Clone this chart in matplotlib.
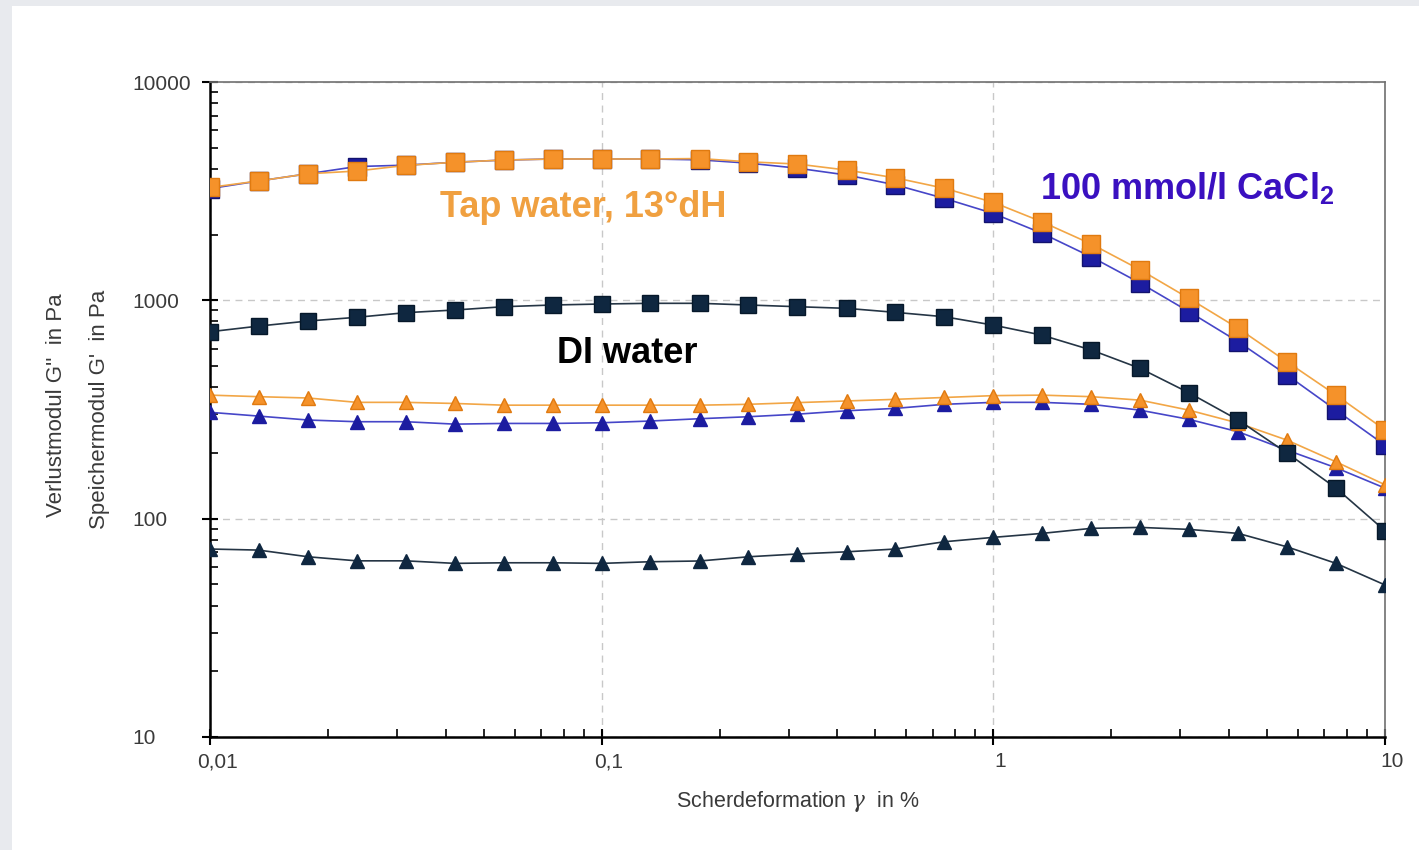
import matplotlib
matplotlib.use("Agg")
import matplotlib.pyplot as plt
from matplotlib.patches import Rectangle
from matplotlib.ticker import LogLocator, NullFormatter
from matplotlib.transforms import ScaledTranslation

plt.rcParams['font.family'] = ['Liberation Sans', 'DejaVu Sans']
plt.rcParams['mathtext.fontset'] = 'custom'
plt.rcParams['mathtext.rm'] = 'Liberation Sans'
plt.rcParams['mathtext.it'] = 'DejaVu Serif:italic'
plt.rcParams['mathtext.bf'] = 'Liberation Sans:bold'

# shear strain in %
strain = [0.01, 0.0133, 0.0178, 0.0237, 0.0316, 0.0422, 0.0562, 0.075,
          0.1, 0.133, 0.178, 0.237, 0.316, 0.422, 0.562, 0.75,
          1.0, 1.33, 1.78, 2.37, 3.16, 4.22, 5.62, 7.5, 10.0]

# storage modulus G' (squares)
tap_g1 = [3290, 3520, 3800, 3910, 4150, 4290, 4390, 4440, 4440, 4440, 4460, 4310,
          4210, 3950, 3640, 3260, 2810, 2290, 1810, 1380, 1020, 744, 523, 368, 255]
cacl_g1 = [3250, 3520, 3800, 4100, 4160, 4290, 4390, 4440, 4440, 4440, 4400, 4250,
           4030, 3750, 3380, 2930, 2500, 2030, 1580, 1200, 887, 646, 455, 314, 217]
di_g1 = [718, 762, 804, 836, 878, 903, 935, 952, 962, 969, 969, 952,
         935, 919, 881, 841, 770, 693, 592, 488, 377, 283, 200, 138, 88]

# loss modulus G'' (triangles)
tap_g2 = [368, 362, 357, 341, 341, 337, 331, 331, 331, 331, 331, 334,
          340, 346, 352, 359, 366, 368, 362, 349, 314, 274, 229, 182, 143]
cacl_g2 = [307, 295, 283, 278, 278, 271, 273, 273, 275, 280, 287, 293,
           301, 312, 320, 334, 341, 341, 334, 314, 285, 250, 206, 171, 138]
di_g2 = [72.6, 71.8, 66.9, 64.1, 64.1, 62.4, 62.8, 62.8, 62.4, 63.5, 64.0, 66.9,
         68.9, 70.5, 72.6, 78.4, 82.1, 85.6, 90.3, 91.2, 89.3, 85.6, 74.3, 62.4, 49.7]

x_ticks = [0.01, 0.1, 1, 10]
x_labels = ['0,01', '0,1', '1', '10']
y_ticks = [10, 100, 1000, 10000]
y_labels = ['10', '100', '1000', '10000']

orange = '#f5922a'
blue = '#1c1ca0'
navy = '#0f2740'

fig = plt.figure(figsize=(14.19, 8.5), dpi=100)
fig.patch.set_facecolor('#e8eaee')
fig.patches.append(Rectangle((12 / 1419, 0), 1, 1 - 6 / 850, transform=fig.transFigure,
                             facecolor='white', edgecolor='none', zorder=-10))
ax = fig.add_axes([210 / 1419, 1 - 737 / 850, 1175 / 1419, 655 / 850])
ax.set_xscale('log')
ax.set_yscale('log')
ax.set_xlim(0.01, 10)
ax.set_ylim(10, 10000)

# G'' curves
ax.plot(strain, di_g2, '-^', color='#253545', mfc=navy, mec=navy, ms=10, lw=1.2, zorder=3)
ax.plot(strain, cacl_g2, '-^', color='#4646c8', mfc=blue, mec=blue, ms=10, lw=1.2, zorder=4)
ax.plot(strain, tap_g2, '-^', color='#f2a646', mfc=orange, mec='#e07a10', ms=10, lw=1.2, zorder=5)

# G' curves
ax.plot(strain, di_g1, '-s', color='#253545', mfc=navy, mec='#06182a', ms=11.5, lw=1.2, zorder=6)
ax.plot(strain, cacl_g1, '-s', color='#4646c8', mfc=blue, mec='#12126e', ms=12.5, lw=1.2, zorder=7)
ax.plot(strain, tap_g1, '-s', color='#f2a646', mfc=orange, mec='#e07a10', ms=12.5, lw=1.2, zorder=8)

ax.set_xticks(x_ticks, x_labels)
ax.set_yticks(y_ticks, y_labels)
ax.xaxis.set_minor_locator(LogLocator(base=10, subs=range(2, 10)))
ax.yaxis.set_minor_locator(LogLocator(base=10, subs=range(2, 10)))
ax.xaxis.set_minor_formatter(NullFormatter())
ax.yaxis.set_minor_formatter(NullFormatter())
ax.tick_params(which='major', direction='inout', length=12, width=1.5, color='black',
               labelsize=15, labelcolor='#3a3a3a')
ax.tick_params(axis='x', which='major', pad=5)
ax.tick_params(axis='y', which='major', pad=50)
ax.tick_params(which='minor', direction='in', length=6, width=1.2, color='black')
for lab in ax.get_yticklabels():
    lab.set_horizontalalignment('left')
for lab in ax.get_xticklabels():
    lab.set_transform(lab.get_transform() + ScaledTranslation(0.07, 0, fig.dpi_scale_trans))
ax.grid(True, which='major', linestyle=(0, (5, 4)), color='#c8c8c8', lw=1)

for side in ['left', 'bottom']:
    ax.spines[side].set_color('black')
    ax.spines[side].set_linewidth(1.8)
for side in ['top', 'right']:
    ax.spines[side].set_color('#707070')
    ax.spines[side].set_linewidth(1.2)

ax.set_xlabel(r"Scherdeformation $\it{\gamma}$  in %", fontsize=15.5, color='#3a3a3a', labelpad=13)
fig.text(57 / 1419, 1 - 405 / 850, "Verlustmodul G''  in Pa", rotation=90,
         ha='center', va='center', fontsize=16, color='#3a3a3a')
fig.text(100 / 1419, 1 - 409 / 850, "Speichermodul G'  in Pa", rotation=90,
         ha='center', va='center', fontsize=16, color='#3a3a3a')

ax.text(0.0387, 2415, 'Tap water, 13°dH', color='#f0a040', fontsize=26, fontweight='bold',
        ha='left', va='baseline', zorder=10)
ax.text(0.0769, 518, 'DI water', color='black', fontsize=26, fontweight='bold',
        ha='left', va='baseline', zorder=10)
ax.text(1.315, 2880, r'100 mmol/l CaCl$_{\mathbf{2}}$', color='#3a10c0', fontsize=26,
        fontweight='bold', ha='left', va='baseline', zorder=10)

fig.savefig('out.png', dpi=100, facecolor=fig.get_facecolor())
